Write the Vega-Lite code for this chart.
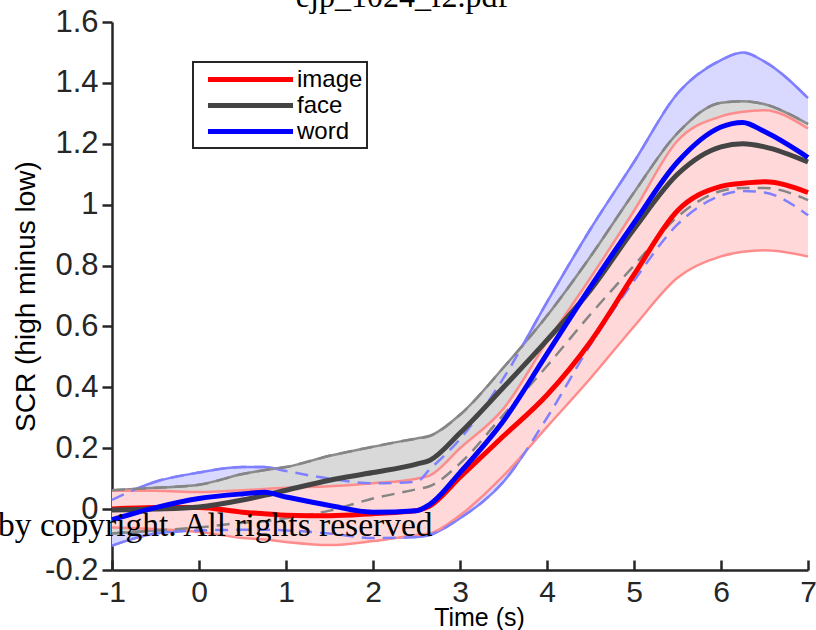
{
  "$schema": "https://vega.github.io/schema/vega-lite/v6.json",
  "width": 696,
  "height": 548,
  "autosize": {"type": "none"},
  "padding": {"left": 112, "top": 22, "right": 8, "bottom": 60},
  "background": "white",
  "title": {"text": "ejp_1024_f2.pdf", "font": "Liberation Serif", "fontSize": 32, "fontWeight": "normal", "color": "black", "anchor": "middle", "frame": "group", "baseline": "alphabetic", "dx": -58, "dy": 36, "offset": 3},
  "config": {
    "view": {"stroke": null},
    "axis": {"grid": false, "domainColor": "#262626", "domainWidth": 2.5, "tickColor": "#262626", "tickWidth": 2.5, "labelFont": "Liberation Sans", "labelColor": "#262626", "titleFont": "Liberation Sans", "titleColor": "black", "titleFontWeight": "normal",
      "labelExpr": "datum.value < 0 ? '-' + format(-datum.value, '~g') : format(datum.value, '~g')"},
    "axisX": {"tickCount": 8, "tickSize": -10, "labelPadding": 17, "labelFontSize": 30, "titleFontSize": 25, "labelFlush": false, "titleX": 367, "titleY": 55, "titleBaseline": "alphabetic"},
    "axisY": {"tickCount": 9, "tickSize": 10, "labelPadding": 4, "labelFontSize": 31, "titleFontSize": 28, "titleX": -78, "titleBaseline": "alphabetic"},
    "legend": {"strokeColor": "#262626", "strokeWidth": 2, "fillColor": "white"}
  },
  "datasets": {
    "curves": [
      {"t": -1, "g": "image", "m": 0.0, "lo": -0.06, "hi": 0.06},
      {"t": -0.5, "g": "image", "m": 0.005, "lo": -0.065, "hi": 0.06},
      {"t": 0, "g": "image", "m": 0.005, "lo": -0.075, "hi": 0.056},
      {"t": 0.5, "g": "image", "m": -0.01, "lo": -0.095, "hi": 0.062},
      {"t": 0.75, "g": "image", "m": -0.015, "lo": -0.1, "hi": 0.066},
      {"t": 1, "g": "image", "m": -0.02, "lo": -0.108, "hi": 0.07},
      {"t": 1.5, "g": "image", "m": -0.022, "lo": -0.118, "hi": 0.075},
      {"t": 2, "g": "image", "m": -0.015, "lo": -0.105, "hi": 0.085},
      {"t": 2.5, "g": "image", "m": -0.005, "lo": -0.085, "hi": 0.1},
      {"t": 2.65, "g": "image", "m": 0.01, "lo": -0.08, "hi": 0.11},
      {"t": 3, "g": "image", "m": 0.105, "lo": -0.02, "hi": 0.2},
      {"t": 3.5, "g": "image", "m": 0.24, "lo": 0.11, "hi": 0.33},
      {"t": 4, "g": "image", "m": 0.375, "lo": 0.27, "hi": 0.55},
      {"t": 4.5, "g": "image", "m": 0.55, "lo": 0.43, "hi": 0.76},
      {"t": 5, "g": "image", "m": 0.77, "lo": 0.6, "hi": 0.98},
      {"t": 5.5, "g": "image", "m": 0.98, "lo": 0.76, "hi": 1.21},
      {"t": 6, "g": "image", "m": 1.06, "lo": 0.83, "hi": 1.29},
      {"t": 6.25, "g": "image", "m": 1.07, "lo": 0.845, "hi": 1.305},
      {"t": 6.5, "g": "image", "m": 1.075, "lo": 0.85, "hi": 1.31},
      {"t": 7, "g": "image", "m": 1.04, "lo": 0.83, "hi": 1.25},
      {"t": -1, "g": "face", "m": -0.003, "lo": -0.08, "hi": 0.062},
      {"t": -0.5, "g": "face", "m": 0.0, "lo": -0.07, "hi": 0.07},
      {"t": 0, "g": "face", "m": 0.007, "lo": -0.06, "hi": 0.08},
      {"t": 0.5, "g": "face", "m": 0.03, "lo": -0.045, "hi": 0.115},
      {"t": 0.75, "g": "face", "m": 0.045, "lo": -0.04, "hi": 0.128},
      {"t": 1, "g": "face", "m": 0.062, "lo": -0.03, "hi": 0.138},
      {"t": 1.5, "g": "face", "m": 0.095, "lo": -0.005, "hi": 0.175},
      {"t": 2, "g": "face", "m": 0.12, "lo": 0.035, "hi": 0.205},
      {"t": 2.5, "g": "face", "m": 0.148, "lo": 0.065, "hi": 0.232},
      {"t": 2.65, "g": "face", "m": 0.16, "lo": 0.075, "hi": 0.24},
      {"t": 3, "g": "face", "m": 0.25, "lo": 0.15, "hi": 0.31},
      {"t": 3.5, "g": "face", "m": 0.4, "lo": 0.31, "hi": 0.465},
      {"t": 4, "g": "face", "m": 0.555, "lo": 0.47, "hi": 0.635},
      {"t": 4.5, "g": "face", "m": 0.72, "lo": 0.64, "hi": 0.83},
      {"t": 5, "g": "face", "m": 0.92, "lo": 0.8, "hi": 1.04},
      {"t": 5.5, "g": "face", "m": 1.1, "lo": 0.96, "hi": 1.235},
      {"t": 6, "g": "face", "m": 1.19, "lo": 1.045, "hi": 1.335},
      {"t": 6.25, "g": "face", "m": 1.2, "lo": 1.055, "hi": 1.34},
      {"t": 6.5, "g": "face", "m": 1.19, "lo": 1.055, "hi": 1.33},
      {"t": 7, "g": "face", "m": 1.14, "lo": 1.015, "hi": 1.265},
      {"t": -1, "g": "word", "m": -0.035, "lo": -0.12, "hi": 0.03},
      {"t": -0.5, "g": "word", "m": 0.005, "lo": -0.08, "hi": 0.09},
      {"t": 0, "g": "word", "m": 0.035, "lo": -0.07, "hi": 0.12},
      {"t": 0.5, "g": "word", "m": 0.05, "lo": -0.068, "hi": 0.138},
      {"t": 0.75, "g": "word", "m": 0.055, "lo": -0.068, "hi": 0.138},
      {"t": 1, "g": "word", "m": 0.04, "lo": -0.07, "hi": 0.125},
      {"t": 1.5, "g": "word", "m": 0.012, "lo": -0.08, "hi": 0.1},
      {"t": 2, "g": "word", "m": -0.01, "lo": -0.095, "hi": 0.085},
      {"t": 2.5, "g": "word", "m": -0.005, "lo": -0.092, "hi": 0.09},
      {"t": 2.65, "g": "word", "m": 0.015, "lo": -0.085, "hi": 0.13},
      {"t": 3, "g": "word", "m": 0.12, "lo": -0.03, "hi": 0.23},
      {"t": 3.5, "g": "word", "m": 0.29, "lo": 0.09, "hi": 0.43},
      {"t": 4, "g": "word", "m": 0.51, "lo": 0.3, "hi": 0.68},
      {"t": 4.5, "g": "word", "m": 0.73, "lo": 0.54, "hi": 0.92},
      {"t": 5, "g": "word", "m": 0.94, "lo": 0.75, "hi": 1.14},
      {"t": 5.5, "g": "word", "m": 1.14, "lo": 0.935, "hi": 1.365},
      {"t": 6, "g": "word", "m": 1.255, "lo": 1.03, "hi": 1.475},
      {"t": 6.25, "g": "word", "m": 1.27, "lo": 1.045, "hi": 1.5},
      {"t": 6.5, "g": "word", "m": 1.24, "lo": 1.04, "hi": 1.47},
      {"t": 7, "g": "word", "m": 1.155, "lo": 0.965, "hi": 1.35}
    ]
  },
  "data": {"name": "curves"},
  "encoding": {
    "x": {"field": "t", "type": "quantitative", "title": "Time (s)", "scale": {"domain": [-1, 7], "nice": false, "zero": false}}
  },
  "layer": [
    {"transform": [{"filter": "datum.g === 'word'"}], "mark": {"type": "area", "color": "#d9d9ff", "opacity": 1, "interpolate": "monotone"},
     "encoding": {"y": {"field": "lo", "type": "quantitative", "title": "SCR (high minus low)", "scale": {"domain": [-0.2, 1.6], "nice": false, "zero": false}}, "y2": {"field": "hi"}}},
    {"transform": [{"filter": "datum.g === 'word'"}], "mark": {"type": "line", "color": "#8080ff", "strokeWidth": 2.5, "interpolate": "monotone"},
     "encoding": {"y": {"field": "hi", "type": "quantitative", "title": "SCR (high minus low)"}}},
    {"transform": [{"filter": "datum.g === 'word'"}], "mark": {"type": "line", "color": "#8080ff", "strokeWidth": 2.5, "interpolate": "monotone"},
     "encoding": {"y": {"field": "lo", "type": "quantitative", "title": "SCR (high minus low)"}}},
    {"transform": [{"filter": "datum.g === 'face'"}], "mark": {"type": "area", "color": "#d9d9d9", "opacity": 1, "interpolate": "monotone"},
     "encoding": {"y": {"field": "lo", "type": "quantitative", "title": "SCR (high minus low)"}, "y2": {"field": "hi"}}},
    {"transform": [{"filter": "datum.g === 'face'"}], "mark": {"type": "line", "color": "#8c8c8c", "strokeWidth": 2.5, "interpolate": "monotone"},
     "encoding": {"y": {"field": "hi", "type": "quantitative", "title": "SCR (high minus low)"}}},
    {"transform": [{"filter": "datum.g === 'face'"}], "mark": {"type": "line", "color": "#8c8c8c", "strokeWidth": 2.5, "interpolate": "monotone"},
     "encoding": {"y": {"field": "lo", "type": "quantitative", "title": "SCR (high minus low)"}}},
    {"transform": [{"filter": "datum.g === 'image'"}], "mark": {"type": "area", "color": "#ffd9d9", "opacity": 1, "interpolate": "monotone"},
     "encoding": {"y": {"field": "lo", "type": "quantitative", "title": "SCR (high minus low)"}, "y2": {"field": "hi"}}},
    {"transform": [{"filter": "datum.g === 'image'"}], "mark": {"type": "line", "color": "#ff8c8c", "strokeWidth": 2.5, "interpolate": "monotone"},
     "encoding": {"y": {"field": "hi", "type": "quantitative", "title": "SCR (high minus low)"}}},
    {"transform": [{"filter": "datum.g === 'image'"}], "mark": {"type": "line", "color": "#ff8c8c", "strokeWidth": 2.5, "interpolate": "monotone"},
     "encoding": {"y": {"field": "lo", "type": "quantitative", "title": "SCR (high minus low)"}}},
    {"transform": [{"filter": "datum.g === 'word'"}], "mark": {"type": "line", "color": "#8080ff", "strokeWidth": 2.5, "strokeDash": [13, 8], "interpolate": "monotone"},
     "encoding": {"y": {"field": "hi", "type": "quantitative", "title": "SCR (high minus low)"}}},
    {"transform": [{"filter": "datum.g === 'word'"}], "mark": {"type": "line", "color": "#8080ff", "strokeWidth": 2.5, "strokeDash": [13, 8], "interpolate": "monotone"},
     "encoding": {"y": {"field": "lo", "type": "quantitative", "title": "SCR (high minus low)"}}},
    {"transform": [{"filter": "datum.g === 'face'"}], "mark": {"type": "line", "color": "#858585", "strokeWidth": 2.5, "strokeDash": [13, 8], "interpolate": "monotone"},
     "encoding": {"y": {"field": "hi", "type": "quantitative", "title": "SCR (high minus low)"}}},
    {"transform": [{"filter": "datum.g === 'face'"}], "mark": {"type": "line", "color": "#858585", "strokeWidth": 2.5, "strokeDash": [13, 8], "interpolate": "monotone"},
     "encoding": {"y": {"field": "lo", "type": "quantitative", "title": "SCR (high minus low)"}}},
    {"transform": [{"filter": "datum.g === 'image'"}], "mark": {"type": "line", "strokeWidth": 5, "interpolate": "monotone"},
     "encoding": {"y": {"field": "m", "type": "quantitative", "title": "SCR (high minus low)"},
       "color": {"field": "g", "type": "nominal", "scale": {"domain": ["image", "face", "word"], "range": ["#ff0000", "#444444", "#0000ff"]},
         "legend": {"orient": "none", "legendX": 81, "legendY": 40, "title": null, "symbolType": "M-4,0H4", "symbolSize": 452, "symbolStrokeWidth": 5, "symbolOffset": 40, "labelFont": "Liberation Sans", "labelFontSize": 24, "labelColor": "black", "labelOffset": 33, "padding": 4, "rowPadding": -1}}}},
    {"transform": [{"filter": "datum.g === 'face'"}], "mark": {"type": "line", "strokeWidth": 5, "interpolate": "monotone"},
     "encoding": {"y": {"field": "m", "type": "quantitative", "title": "SCR (high minus low)"}, "color": {"field": "g", "type": "nominal"}}},
    {"transform": [{"filter": "datum.g === 'word'"}], "mark": {"type": "line", "strokeWidth": 5, "interpolate": "monotone"},
     "encoding": {"y": {"field": "m", "type": "quantitative", "title": "SCR (high minus low)"}, "color": {"field": "g", "type": "nominal"}}},
    {"transform": [{"filter": "datum.g === 'image' && datum.t === 2.65"}],
     "mark": {"type": "text", "text": "Protected by copyright. All rights reserved", "align": "right", "baseline": "alphabetic", "dx": 3, "dy": 3, "font": "Liberation Serif", "fontSize": 33.5, "fill": "black"},
     "encoding": {"y": {"field": "lo", "type": "quantitative", "title": "SCR (high minus low)"}}}
  ]
}
